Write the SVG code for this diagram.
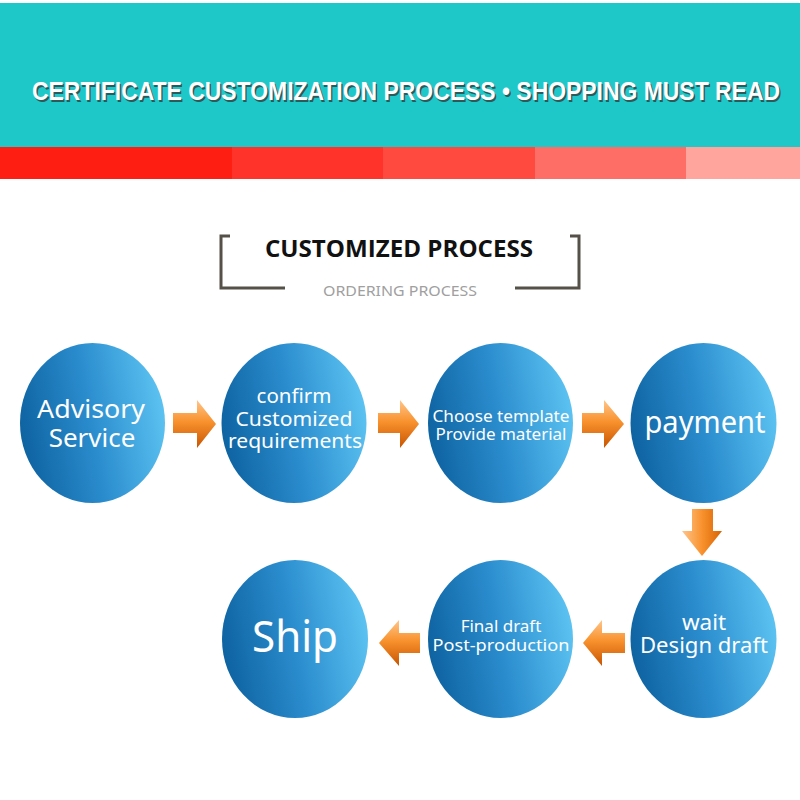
<svg xmlns="http://www.w3.org/2000/svg" width="800" height="800" viewBox="0 0 800 800">
<defs>
<linearGradient id="ball" x1="0" y1="0.6" x2="1" y2="0.4">
<stop offset="0" stop-color="#0E62A0"/>
<stop offset="0.5" stop-color="#2B8DCE"/>
<stop offset="1" stop-color="#5CC3F2"/>
</linearGradient>
<linearGradient id="arrH" x1="0" y1="0" x2="0" y2="1">
<stop offset="0" stop-color="#FFC58A"/>
<stop offset="0.45" stop-color="#F8922E"/>
<stop offset="1" stop-color="#C85400"/>
</linearGradient>
<linearGradient id="arrV" x1="0" y1="0" x2="1" y2="0">
<stop offset="0" stop-color="#FFC58A"/>
<stop offset="0.5" stop-color="#F8922E"/>
<stop offset="1" stop-color="#D86200"/>
</linearGradient>
<style>
.ball{fill:url(#ball)}
.lbl{fill:#fff;font-family:"Noto Sans","Open Sans",sans-serif;text-anchor:middle}
.arr{fill:url(#arrH)}
.arrv{fill:url(#arrV)}
.br{fill:none;stroke:#555048;stroke-width:3}
.ttl{font-family:"Liberation Sans",Arial,sans-serif;font-weight:bold;font-size:25px;text-anchor:middle}
</style>
</defs>
<rect width="800" height="800" fill="#fff"/>
<rect x="0" y="3" width="800" height="144" fill="#1EC8C8"/>
<rect x="0" y="147" width="232" height="32" fill="#FF1E12"/>
<rect x="232" y="147" width="151" height="32" fill="#FF3329"/>
<rect x="383" y="147" width="152" height="32" fill="#FF4A40"/>
<rect x="535" y="147" width="151" height="32" fill="#FF6E66"/>
<rect x="686" y="147" width="114" height="32" fill="#FFA59E"/>
<text class="ttl" x="407.5" y="101.5" fill="#2B5A5A" textLength="748" lengthAdjust="spacingAndGlyphs">CERTIFICATE CUSTOMIZATION PROCESS • SHOPPING MUST READ</text>
<text class="ttl" x="406" y="100" fill="#fff" textLength="748" lengthAdjust="spacingAndGlyphs">CERTIFICATE CUSTOMIZATION PROCESS • SHOPPING MUST READ</text>

<g id="heading">
<path class="br" d="M230,236 H221 V288 H285"/>
<path class="br" d="M570,236 H579 V288 H515"/>
<text x="399" y="257" fill="#111" font-family="Open Sans, Noto Sans, sans-serif" font-weight="bold" font-size="23" text-anchor="middle" textLength="268" lengthAdjust="spacingAndGlyphs">CUSTOMIZED PROCESS</text>
<text x="400" y="296" fill="#A0A0A0" font-family="Noto Sans, Open Sans, sans-serif" font-size="15" text-anchor="middle" textLength="154" lengthAdjust="spacingAndGlyphs">ORDERING PROCESS</text>
</g>

<g id="connectors">
<polygon class="arr" points="173,413 197,413 197,400 216,424 197,448 197,433 173,433"/>
<polygon class="arr" points="378,413 400,413 400,400 419,424 400,448 400,433 378,433"/>
<polygon class="arr" points="582,413 604,413 604,400 624,424 604,448 604,433 582,433"/>
<polygon class="arrv" points="692,509 713,509 713,531 722,531 702,556 682,531 692,531"/>
<polygon class="arr" points="625,633 602,633 602,620 583,643 602,666 602,653 625,653"/>
<polygon class="arr" points="420,633 399,633 399,620 379,643 399,666 399,653 420,653"/>
</g>

<g id="n1"><ellipse class="ball" cx="92.5" cy="423" rx="72.5" ry="80"/>
<text class="lbl" x="91" y="418" font-size="26" textLength="108" lengthAdjust="spacingAndGlyphs">Advisory</text>
<text class="lbl" x="92" y="447" font-size="26">Service</text></g>

<g id="n2"><ellipse class="ball" cx="294" cy="423" rx="72.5" ry="80"/>
<text class="lbl" x="294" y="403" font-size="20.5">confirm</text>
<text class="lbl" x="294" y="426" font-size="20.5" textLength="117" lengthAdjust="spacingAndGlyphs">Customized</text>
<text class="lbl" x="295" y="448" font-size="20.5" textLength="134" lengthAdjust="spacingAndGlyphs">requirements</text></g>

<g id="n3"><ellipse class="ball" cx="500.5" cy="423" rx="72.5" ry="80"/>
<text class="lbl" x="501" y="422" font-size="16.5" textLength="137" lengthAdjust="spacingAndGlyphs">Choose template</text>
<text class="lbl" x="501" y="440" font-size="16.5" textLength="131" lengthAdjust="spacingAndGlyphs">Provide material</text></g>

<g id="n4"><ellipse class="ball" cx="703.5" cy="423" rx="73" ry="80"/>
<text class="lbl" x="705" y="433" font-size="30" textLength="121" lengthAdjust="spacingAndGlyphs">payment</text></g>

<g id="n5"><ellipse class="ball" cx="703.5" cy="639" rx="73" ry="79"/>
<text class="lbl" x="704" y="630" font-size="22.5">wait</text>
<text class="lbl" x="704" y="653" font-size="22.5" textLength="128" lengthAdjust="spacingAndGlyphs">Design draft</text></g>

<g id="n6"><ellipse class="ball" cx="500.5" cy="639" rx="72.5" ry="79"/>
<text class="lbl" x="501" y="632" font-size="17">Final draft</text>
<text class="lbl" x="501" y="651" font-size="17" textLength="137" lengthAdjust="spacingAndGlyphs">Post-production</text></g>

<g id="n7"><ellipse class="ball" cx="295" cy="639" rx="73" ry="79"/>
<text class="lbl" x="295" y="652" font-size="44" textLength="86" lengthAdjust="spacingAndGlyphs">Ship</text></g>
</svg>
